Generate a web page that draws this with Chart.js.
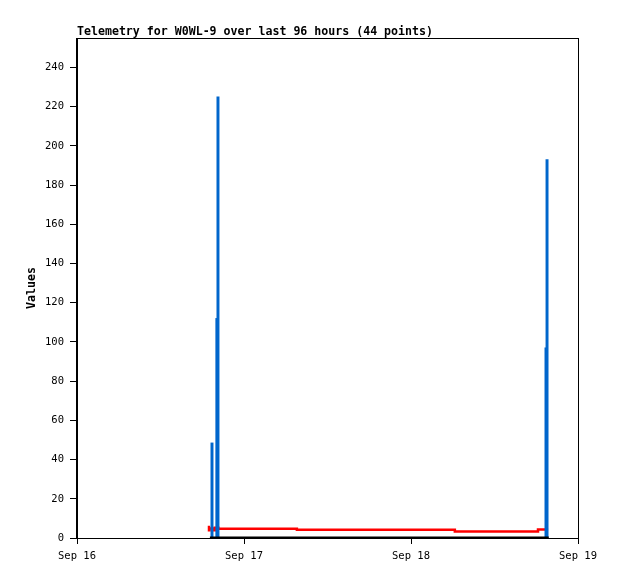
<!DOCTYPE html>
<html>
<head>
<meta charset="utf-8">
<script src="https://cdn.jsdelivr.net/npm/chart.js@4"></script>
<style>
html,body{margin:0;padding:0;background:#fff;}
#wrap{width:618px;height:579px;position:relative;}
</style>
</head>
<body>
<div id="wrap"><canvas id="c" width="618" height="579"></canvas></div>
<script>
// Hours since Sep 16 00:00
const xTickLabels = ['Sep 16', 'Sep 17', 'Sep 18', 'Sep 19'];
const yTickValues = [0, 20, 40, 60, 80, 100, 120, 140, 160, 180, 200, 220, 240];

const redTimes  = [18.97, 19.05, 19.7, 19.8, 20.3, 31.6, 54.3, 66.25, 67.1, 67.7];
const redValues = [6.2,   4.0,   4.8,  4.0,  5.2,  4.7,  4.2,  3.3,   4.3,  4.3];

const blueTimes  = [19.4, 20.1, 20.26, 67.4, 67.55];
const blueValues = [48.5, 112,  225,   97,   193];

const blackTimes  = [19.1, 67.8];
const blackValues = [0, 0];

const titleText = 'Telemetry for W0WL-9 over last 96 hours (44 points)';
const yTitle = 'Values';

const pts = (xs, ys) => xs.map((x, i) => ({x: x, y: ys[i]}));

const MONO = "'DejaVu Sans Mono', 'Liberation Mono', monospace";

const framePlugin = {
  id: 'frame',
  beforeDatasetsDraw(chart) {
    const {ctx, chartArea: a} = chart;
    ctx.save();
    ctx.strokeStyle = '#000';
    ctx.lineWidth = 1;
    ctx.strokeRect(Math.round(a.left) - 0.5, Math.round(a.top) + 0.5, Math.round(a.right - a.left) + 1, Math.round(a.bottom - a.top));
    ctx.restore();
  },
  afterDraw(chart) {
    const {ctx, chartArea: a} = chart;
    ctx.save();
    ctx.fillStyle = '#000';
    ctx.font = "bold 11.6px " + MONO;
    ctx.textAlign = 'left';
    ctx.textBaseline = 'alphabetic';
    ctx.fillText(titleText, a.left, 35);
    ctx.restore();
  }
};

new Chart(document.getElementById('c'), {
  type: 'line',
  data: {
    datasets: [
      {
        label: 'zero',
        data: pts(blackTimes, blackValues),
        borderColor: '#000',
        borderWidth: 3,
        pointRadius: 0,
        fill: false,
        order: 0
      },
      {
        type: 'bar',
        label: 'spikes',
        data: pts(blueTimes, blueValues),
        backgroundColor: '#0066CC',
        borderWidth: 0,
        barThickness: 2.3,
        grouped: false,
        order: 1
      },
      {
        label: 'red',
        data: pts(redTimes, redValues),
        borderColor: '#FF0000',
        borderWidth: 2.5,
        pointRadius: 0,
        stepped: 'after',
        fill: false,
        order: 2
      }
    ]
  },
  options: {
    responsive: false,
    animation: false,
    devicePixelRatio: 1,
    layout: { padding: { left: 0, right: 40, top: 38, bottom: 0 } },
    plugins: {
      legend: { display: false },
      tooltip: { enabled: false },
      title: { display: false }
    },
    scales: {
      x: {
        type: 'linear',
        min: 0,
        max: 72,
        offset: false,
        afterFit(s) { s.height = 41; },
        afterBuildTicks(s) { s.ticks = xTickLabels.map((_, i) => ({value: i * 24})); },
        ticks: {
          stepSize: 24,
          color: '#000',
          font: { family: MONO, size: 10.5 },
          padding: 6,
          maxRotation: 0,
          autoSkip: false,
          callback: (v) => xTickLabels[Math.round(v / 24)]
        },
        grid: { display: true, drawOnChartArea: false, drawTicks: true, tickLength: 6, color: '#000', offset: false },
        border: { display: true, color: '#000', width: 1 }
      },
      y: {
        type: 'linear',
        min: 0,
        max: 255,
        afterFit(s) { s.width = 77; },
        afterBuildTicks(s) { s.ticks = yTickValues.map(v => ({value: v})); },
        ticks: {
          color: '#000',
          font: { family: MONO, size: 10.5 },
          padding: 6,
          autoSkip: false,
          includeBounds: false
        },
        title: {
          display: true,
          text: yTitle,
          color: '#000',
          font: { family: MONO, size: 11.6, weight: 'bold' },
          padding: { top: 25, bottom: 0 }
        },
        grid: { display: true, drawOnChartArea: false, drawTicks: true, tickLength: 7, color: '#000' },
        border: { display: true, color: '#000', width: 1 }
      }
    }
  },
  plugins: [framePlugin]
});
</script>
</body>
</html>
